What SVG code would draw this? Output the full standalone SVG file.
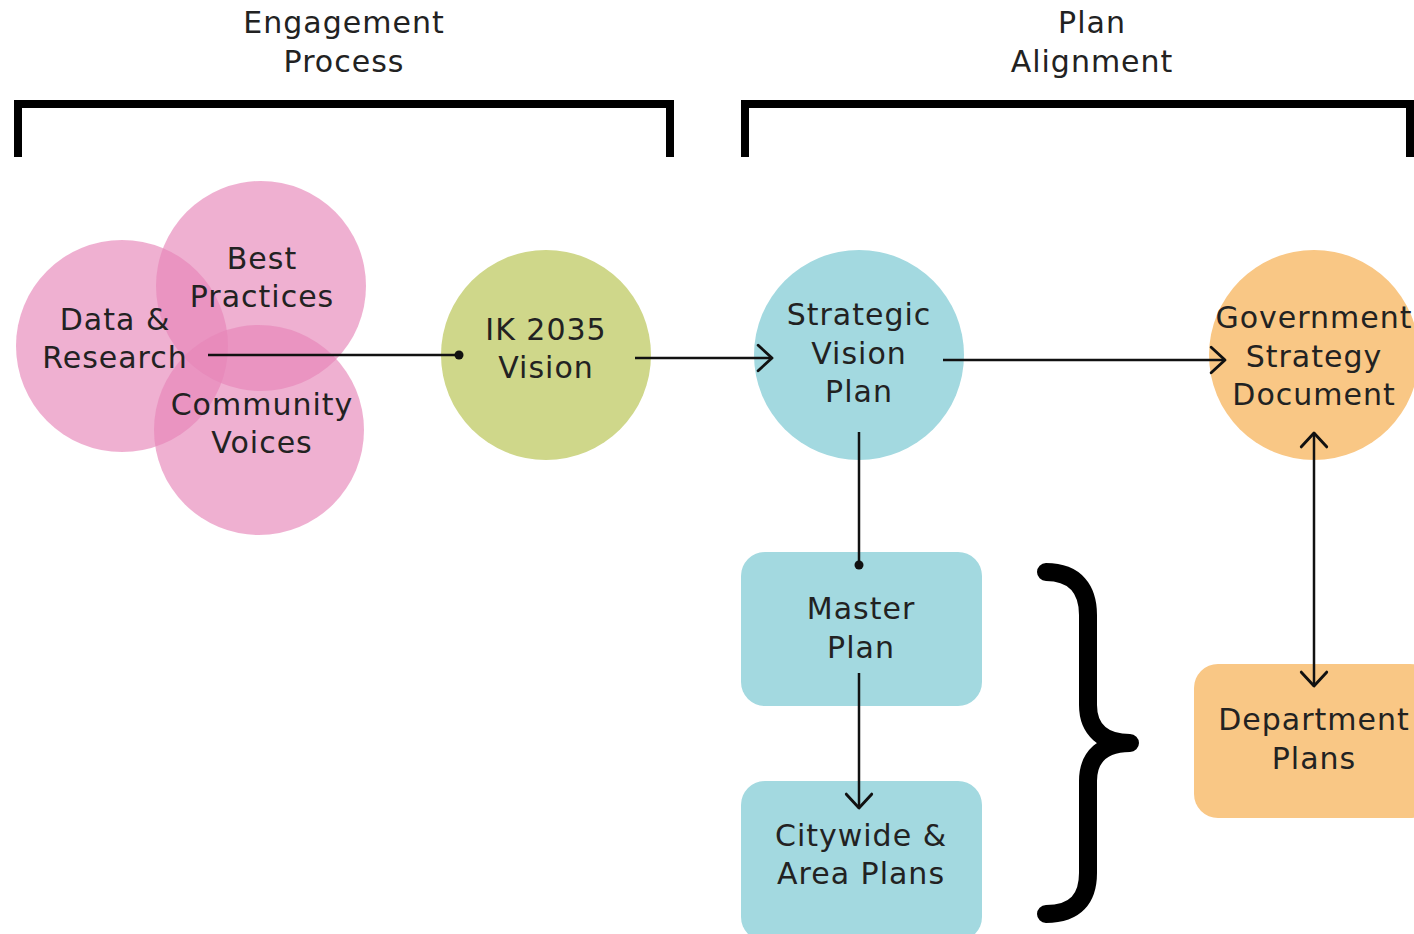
<svg xmlns="http://www.w3.org/2000/svg" width="1414" height="934" viewBox="0 0 1414 934">
<defs>
<style>
.t{font-family:"DejaVu Sans","Liberation Sans",sans-serif;font-size:30px;letter-spacing:1px;fill:#222;text-anchor:middle}
.c{stroke:#111;stroke-width:2.5;fill:none}
.pink{fill:#e685b8;fill-opacity:0.65}
.br{stroke:#000;stroke-width:8;fill:none;stroke-linejoin:miter}
</style>
<marker id="arr" markerUnits="userSpaceOnUse" markerWidth="30" markerHeight="30" viewBox="-14 -13 16 26" refX="0" refY="0" orient="auto-start-reverse">
<path d="M-12,-11 L0,0 L-12,11" fill="none" stroke="#111" stroke-width="2.5" stroke-linecap="round" stroke-linejoin="round"/>
</marker>
<marker id="dot" markerUnits="userSpaceOnUse" markerWidth="12" markerHeight="12" viewBox="-6 -6 12 12" refX="0" refY="0">
<circle r="4.5" fill="#111"/>
</marker>
</defs>
<rect width="1414" height="934" fill="#fff"/>

<g id="header-engagement">
<text class="t" x="344" y="33">Engagement</text>
<text class="t" x="344" y="72">Process</text>
<path class="br" d="M18,157 L18,104 L670,104 L670,157"/>
</g>
<g id="header-plan">
<text class="t" x="1092" y="33">Plan</text>
<text class="t" x="1092" y="72">Alignment</text>
<path class="br" d="M745,157 L745,104 L1410,104 L1410,157"/>
</g>

<g id="engagement-circles">
<circle class="pink" cx="122" cy="346" r="106"/>
<circle class="pink" cx="261" cy="286" r="105"/>
<circle class="pink" cx="259" cy="430" r="105"/>
<text class="t" x="115" y="330">Data &amp;</text>
<text class="t" x="115" y="368">Research</text>
<text class="t" x="262" y="269">Best</text>
<text class="t" x="262" y="307">Practices</text>
<text class="t" x="262" y="415">Community</text>
<text class="t" x="262" y="453">Voices</text>
</g>

<g id="ik2035">
<circle cx="546" cy="355" r="105" fill="#cfd78a"/>
<text class="t" x="546" y="340">IK 2035</text>
<text class="t" x="546" y="378">Vision</text>
</g>

<g id="strategic">
<circle cx="859" cy="355" r="105" fill="#a3d9e0"/>
<text class="t" x="859" y="325">Strategic</text>
<text class="t" x="859" y="364">Vision</text>
<text class="t" x="859" y="402">Plan</text>
</g>

<g id="government">
<circle cx="1314" cy="355" r="105" fill="#f9c785"/>
<text class="t" x="1314" y="328">Government</text>
<text class="t" x="1314" y="367">Strategy</text>
<text class="t" x="1314" y="405">Document</text>
</g>

<g id="master">
<rect x="741" y="552" width="241" height="154" rx="24" fill="#a3d9e0"/>
<text class="t" x="861" y="619">Master</text>
<text class="t" x="861" y="658">Plan</text>
</g>

<g id="citywide">
<rect x="741" y="781" width="241" height="160" rx="24" fill="#a3d9e0"/>
<text class="t" x="861" y="846">Citywide &amp;</text>
<text class="t" x="861" y="884">Area Plans</text>
</g>

<g id="department">
<rect x="1194" y="664" width="240" height="154" rx="24" fill="#f9c785"/>
<text class="t" x="1314" y="730">Department</text>
<text class="t" x="1314" y="769">Plans</text>
</g>

<g id="brace">
<path d="M1046,572 C1076,572 1088,590 1088,615 L1088,705 C1088,730 1104,743 1130,743 C1104,743 1088,756 1088,781 L1088,873 C1088,898 1076,914 1046,914" fill="none" stroke="#000" stroke-width="18" stroke-linecap="round" stroke-linejoin="round"/>
</g>

<g id="connectors">
<line class="c" x1="208" y1="355" x2="459" y2="355" marker-end="url(#dot)"/>
<line class="c" x1="635" y1="358" x2="772" y2="358" marker-end="url(#arr)"/>
<line class="c" x1="943" y1="360" x2="1225" y2="360" marker-end="url(#arr)"/>
<line class="c" x1="859" y1="432" x2="859" y2="565" marker-end="url(#dot)"/>
<line class="c" x1="859" y1="673" x2="859" y2="808" marker-end="url(#arr)"/>
<line class="c" x1="1314" y1="433" x2="1314" y2="686" marker-start="url(#arr)" marker-end="url(#arr)"/>
</g>
</svg>
